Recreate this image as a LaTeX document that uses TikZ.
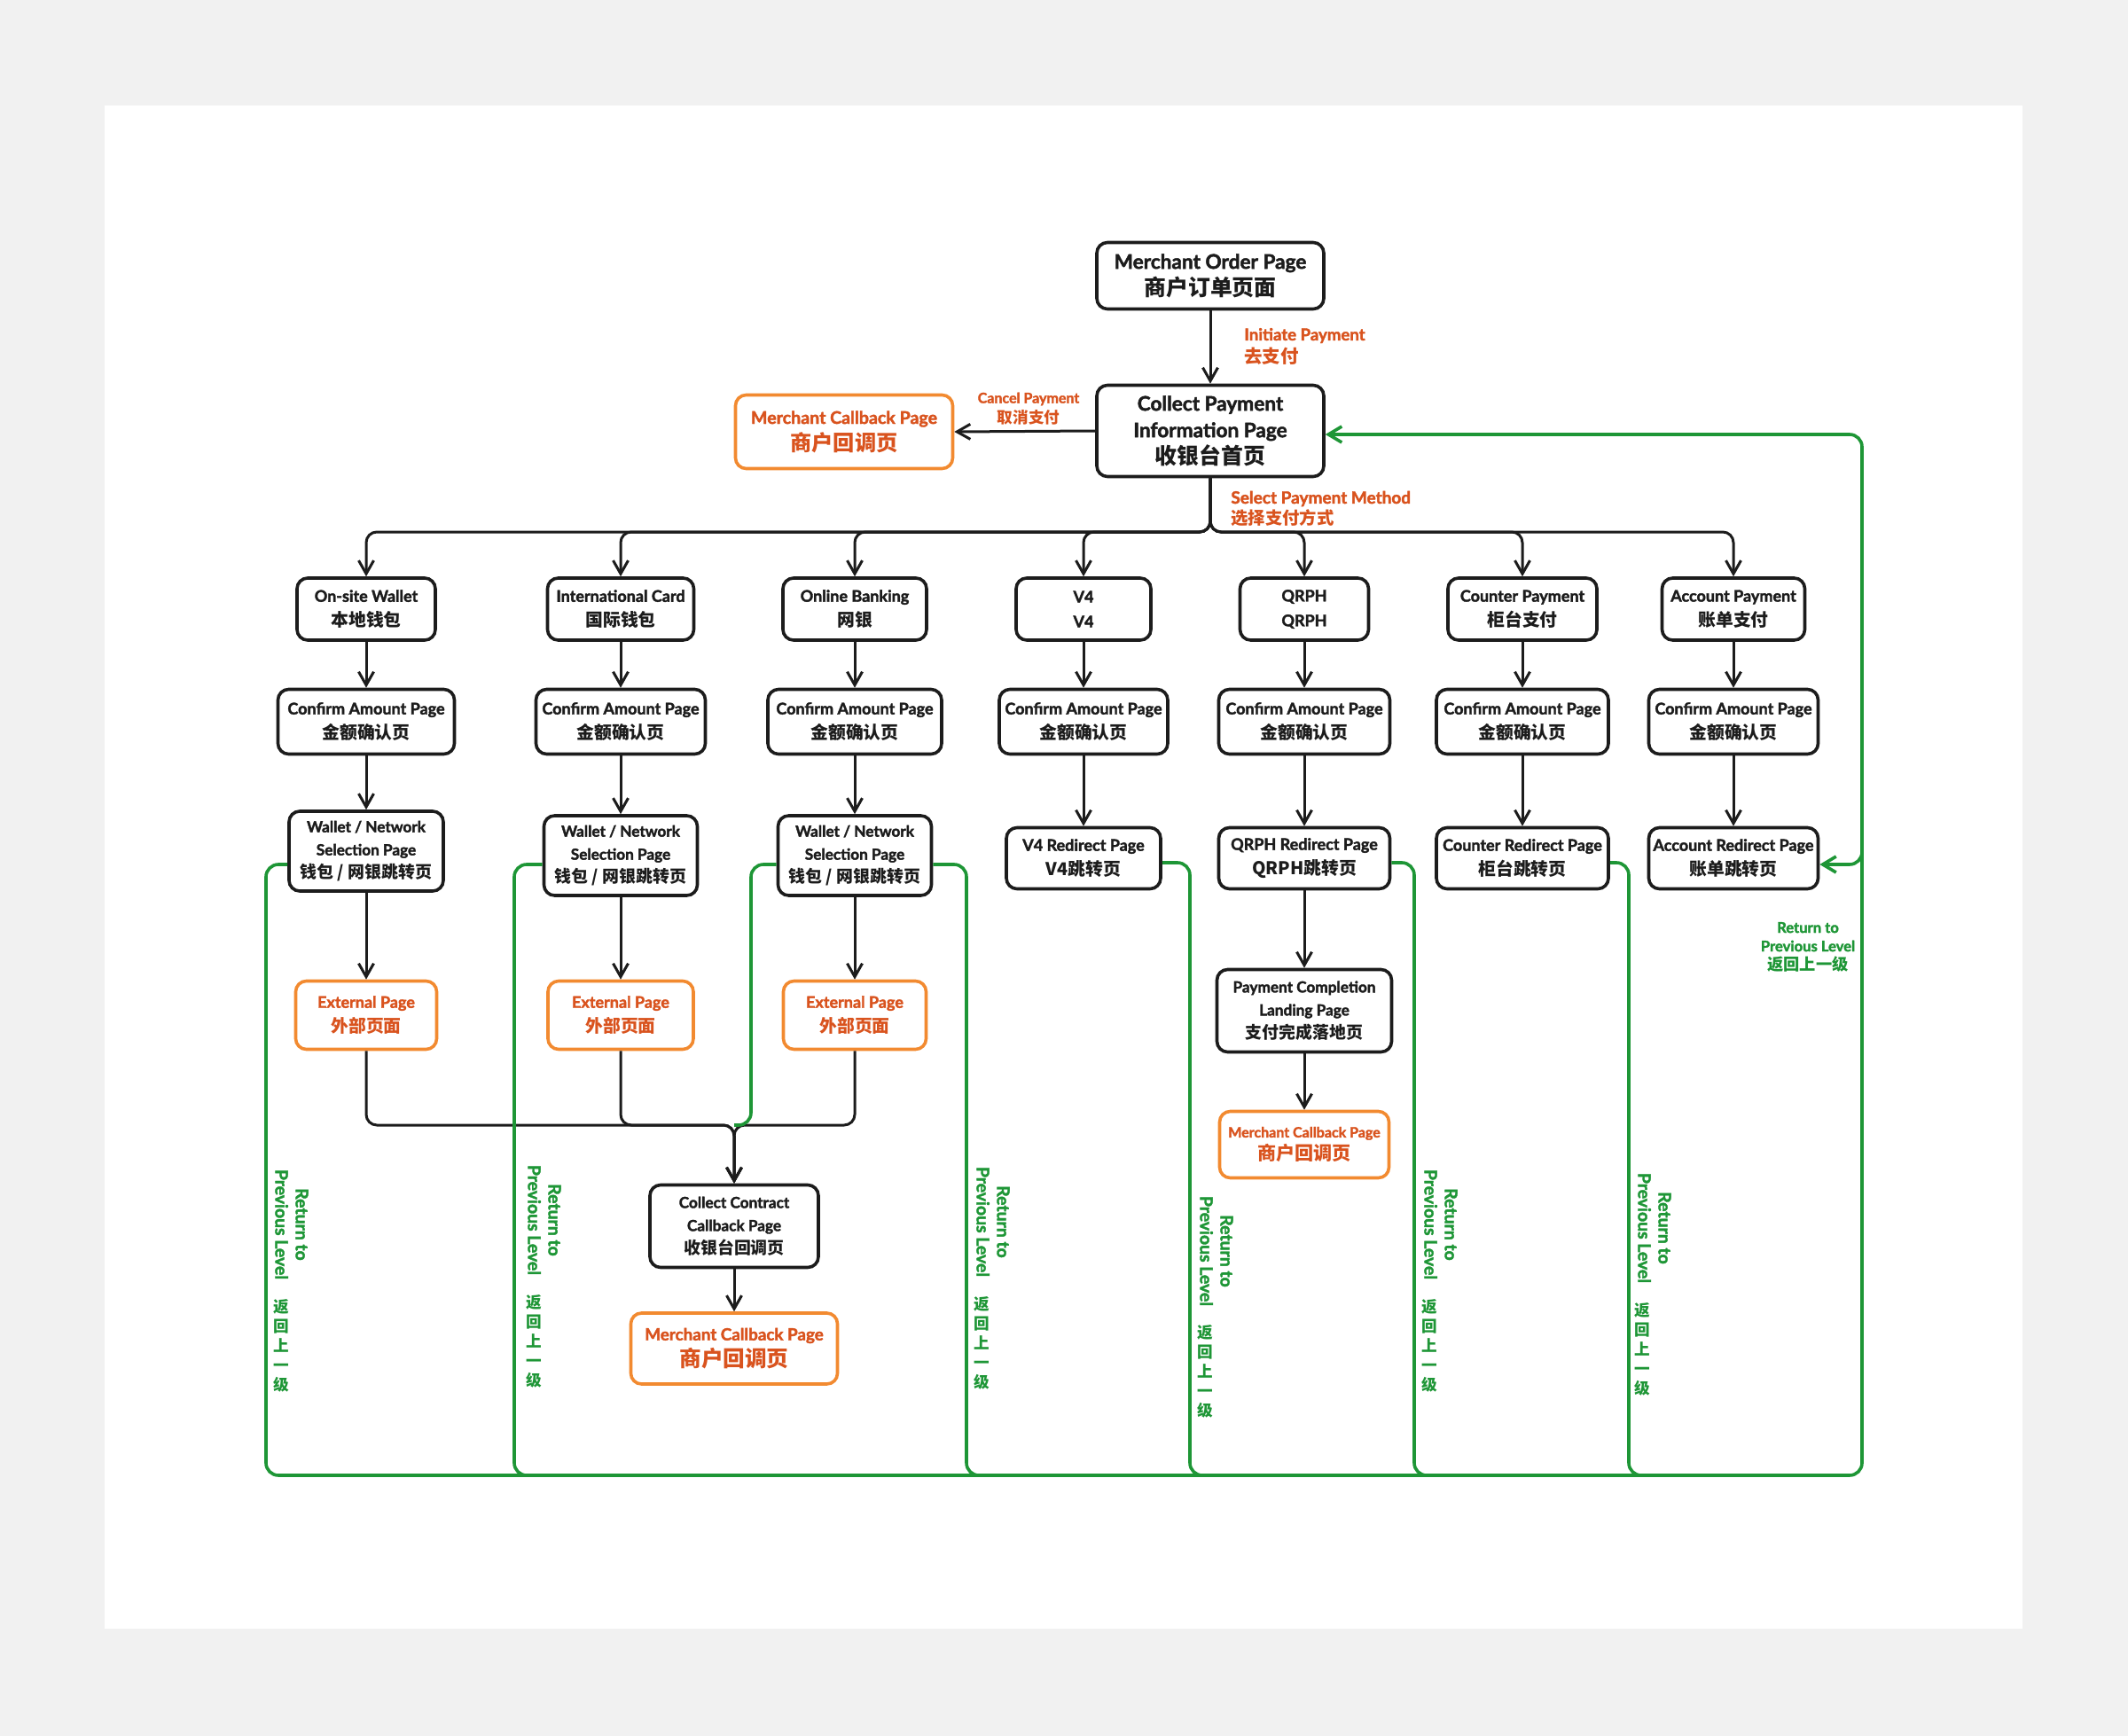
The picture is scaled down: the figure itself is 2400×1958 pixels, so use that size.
\documentclass[tikz,border=0pt]{standalone}
\usepackage{fontspec}
\setmainfont{Lato}[FakeBold=2]
\newfontfamily\cjk{Noto Sans CJK SC}[Scale=1.1]
\newcommand\zh[1]{{\cjk #1}}
\newcommand\zhs[2]{{\cjk\fontsize{#1}{#1}\selectfont #2}}
\usetikzlibrary{arrows.meta}
\definecolor{ink}{HTML}{1C1C1C}
\definecolor{org}{HTML}{F28A30}
\definecolor{orgtxt}{HTML}{D9531E}
\definecolor{grn}{HTML}{1E9636}
\definecolor{bgc}{HTML}{F1F1F1}
\tikzset{
  box/.style={draw=ink, line width=1.8pt, rounded corners=6pt, fill=white, align=center, inner sep=0pt, text=ink},
  obox/.style={box, draw=org, text=orgtxt},
  sz/.style 2 args={minimum width=#1*0.5pt, minimum height=#2*0.5pt},
  fL/.style={font=\bfseries\fontsize{11.3}{15}\selectfont},
  fM/.style={font=\bfseries\fontsize{9}{14}\selectfont},
  fS/.style={font=\bfseries\fontsize{8.6}{13}\selectfont},
  link/.style={draw=ink, line width=1.5pt, rounded corners=6pt, -{Straight Barb[length=7.5pt,width=8.5pt,line width=1.5pt]}},
  gline/.style={draw=grn, line width=1.8pt, rounded corners=7pt},
  garrow/.style={-{Straight Barb[length=7.5pt,width=9pt,line width=1.8pt]}},
  olab/.style={text=orgtxt, inner sep=0pt, font=\bfseries\fontsize{9.3}{13}\selectfont},
  glab/.style={text=grn, inner sep=0pt, align=center, font=\bfseries\fontsize{9.7}{11.5}\selectfont},
  gzh/.style={text=grn, inner sep=0pt, align=center, font=\cjk\bfseries\fontsize{8}{11}\selectfont},
}
\begin{document}
\begin{tikzpicture}[x=0.5pt,y=-0.5pt]
\fill[bgc] (0,0) rectangle (2400,1958);
\fill[white] (118,119) rectangle (2281,1837);
\useasboundingbox (0,0) rectangle (2400,1958);

% top
\node[box,fL,sz={256}{75}] (mo) at (1365,311) {Merchant Order Page\\\zh{商户订单页面}};
\node[box,fL,sz={256}{103}] (cp) at (1365,486) {Collect Payment\\Information Page\\\zh{收银台首页}};
\node[obox,font=\bfseries\fontsize{9.8}{15}\selectfont,sz={245}{83}] (mcA) at (952,487) {Merchant Callback Page\\\zhs{11}{商户回调页}};
\draw[link] (mo) -- (cp);
\draw[link] (cp.west) -- (mcA.east);
\node[olab,anchor=west,align=left] (lip) at (1403,391) {Initiate Payment\\\zh{去支付}};
\node[olab,align=center,font=\bfseries\fontsize{8}{11.5}\selectfont] (lcp) at (1160,461) {Cancel Payment\\\zh{取消支付}};
\node[olab,anchor=west,align=left,font=\bfseries\fontsize{9.5}{12}\selectfont] (lsp) at (1388,574) {Select Payment Method\\\zhs{8.8}{选择支付方式}};

% methods
\node[box,fM,sz={156}{70}] (m1) at (413,687) {On-site Wallet\\\zh{本地钱包}};
\node[box,fM,sz={165}{70}] (m2) at (700,687) {International Card\\\zh{国际钱包}};
\node[box,fM,sz={162}{70}] (m3) at (964,687) {Online Banking\\\zh{网银}};
\node[box,fM,sz={152}{70}] (m4) at (1222,687) {V4\\V4};
\node[box,fM,sz={145}{70}] (m5) at (1471,687) {QRPH\\QRPH};
\node[box,fM,sz={168}{70}] (m6) at (1717,687) {Counter Payment\\\zh{柜台支付}};
\node[box,fM,sz={161}{70}] (m7) at (1955,687) {Account Payment\\\zh{账单支付}};

\coordinate (bus) at (1365,600);
\foreach \m in {m1,m2,m3,m4,m5,m6,m7} \draw[link] (cp.south) -- (bus) -| (\m.north);

% confirm
\node[box,fM,sz={199}{73}] (c1) at (413,814) {Confirm Amount Page\\\zh{金额确认页}};
\node[box,fM,sz={191}{73}] (c2) at (700,814) {Confirm Amount Page\\\zh{金额确认页}};
\node[box,fM,sz={196}{73}] (c3) at (964,814) {Confirm Amount Page\\\zh{金额确认页}};
\node[box,fM,sz={190}{73}] (c4) at (1222,814) {Confirm Amount Page\\\zh{金额确认页}};
\node[box,fM,sz={193}{73}] (c5) at (1471,814) {Confirm Amount Page\\\zh{金额确认页}};
\node[box,fM,sz={194}{73}] (c6) at (1717,814) {Confirm Amount Page\\\zh{金额确认页}};
\node[box,fM,sz={191}{73}] (c7) at (1955,814) {Confirm Amount Page\\\zh{金额确认页}};

% row 3
\node[box,fS,sz={174}{90}] (w1) at (413,960) {Wallet / Network\\Selection Page\\\zh{钱包 / 网银跳转页}};
\node[box,fS,sz={173}{90}] (w2) at (700,965) {Wallet / Network\\Selection Page\\\zh{钱包 / 网银跳转页}};
\node[box,fS,sz={173}{90}] (w3) at (964,965) {Wallet / Network\\Selection Page\\\zh{钱包 / 网银跳转页}};
\node[box,fM,sz={174}{69}] (r4) at (1222,968) {V4 Redirect Page\\\zh{V4跳转页}};
\node[box,fM,sz={193}{69}] (r5) at (1471,968) {QRPH Redirect Page\\\zh{QRPH跳转页}};
\node[box,fM,sz={194}{69}] (r6) at (1717,968) {Counter Redirect Page\\\zh{柜台跳转页}};
\node[box,fM,sz={191}{69}] (r7) at (1955,968) {Account Redirect Page\\\zh{账单跳转页}};

% row 4
\node[obox,fM,sz={159}{77}] (e1) at (413,1145) {External Page\\\zh{外部页面}};
\node[obox,fM,sz={164}{77}] (e2) at (700,1145) {External Page\\\zh{外部页面}};
\node[obox,fM,sz={161}{77}] (e3) at (964,1145) {External Page\\\zh{外部页面}};
\node[box,fS,sz={197}{93}] (pc) at (1471,1140) {Payment Completion\\Landing Page\\\zh{支付完成落地页}};
\node[obox,font=\bfseries\fontsize{8}{13}\selectfont,sz={191}{75}] (mcC) at (1471,1291) {Merchant Callback Page\\\zhs{9.6}{商户回调页}};

\node[box,fS,sz={190}{93}] (cc) at (828,1383) {Collect Contract\\Callback Page\\\zh{收银台回调页}};
\node[obox,font=\bfseries\fontsize{9.4}{15}\selectfont,sz={233}{80}] (mcB) at (828,1521) {Merchant Callback Page\\\zhs{11.2}{商户回调页}};

\foreach \a/\b in {m1/c1,c1/w1,w1/e1,m2/c2,c2/w2,w2/e2,m3/c3,c3/w3,w3/e3,m4/c4,c4/r4,m5/c5,c5/r5,r5/pc,pc/mcC,m6/c6,c6/r6,m7/c7,c7/r7,cc/mcB}
  \draw[link] (\a.south) -- (\b.north);

\coordinate (mg) at (828,1269);
\foreach \e in {e1,e2,e3} \draw[link] (\e.south) |- (mg) -- (cc.north);

% green return lines
\draw[gline] (w2.west |- 0,975) -- (580,975) -- (580,1664) -- (640,1664);
\draw[gline] (w3.west |- 0,975) -- (847,975) -- (847,1269) -- (828,1269);
\draw[gline] (w3.east |- 0,975) -- (1090,975) -- (1090,1664) -- (1150,1664);
\draw[gline] (r4.east |- 0,973) -- (1342,973) -- (1342,1664) -- (1400,1664);
\draw[gline] (r5.east |- 0,973) -- (1595,973) -- (1595,1664) -- (1650,1664);
\draw[gline] (r6.east |- 0,973) -- (1837,973) -- (1837,1664) -- (1890,1664);
\draw[gline,garrow] (w1.west |- 0,975) -- (300,975) -- (300,1664) -- (2100,1664) -- (2100,490) -- (cp.east |- 0,490);
\draw[gline,garrow] (2100,900) -- (2100,975) -- (r7.east |- 0,975);

% green labels
\node[glab,rotate=-90] (g1) at (329,1381) {Return to\\Previous Level};
\node[gzh] (z1) at (317,1518) {返\\回\\上\\一\\级};
\node[glab,rotate=-90] (g2) at (614,1376) {Return to\\Previous Level};
\node[gzh] (z2) at (602,1513) {返\\回\\上\\一\\级};
\node[glab,rotate=-90] (g3) at (1120,1378) {Return to\\Previous Level};
\node[gzh] (z3) at (1107,1515) {返\\回\\上\\一\\级};
\node[glab,rotate=-90] (g4) at (1372,1411) {Return to\\Previous Level};
\node[gzh] (z4) at (1359,1547) {返\\回\\上\\一\\级};
\node[glab,rotate=-90] (g5) at (1625,1381) {Return to\\Previous Level};
\node[gzh] (z5) at (1612,1518) {返\\回\\上\\一\\级};
\node[glab,rotate=-90] (g6) at (1866,1385) {Return to\\Previous Level};
\node[gzh] (z6) at (1852,1522) {返\\回\\上\\一\\级};
\node[glab,font=\bfseries\fontsize{8.3}{10.5}\selectfont] (g7) at (2039,1068) {Return to\\Previous Level\\\zh{返回上一级}};
\end{tikzpicture}
\end{document}
